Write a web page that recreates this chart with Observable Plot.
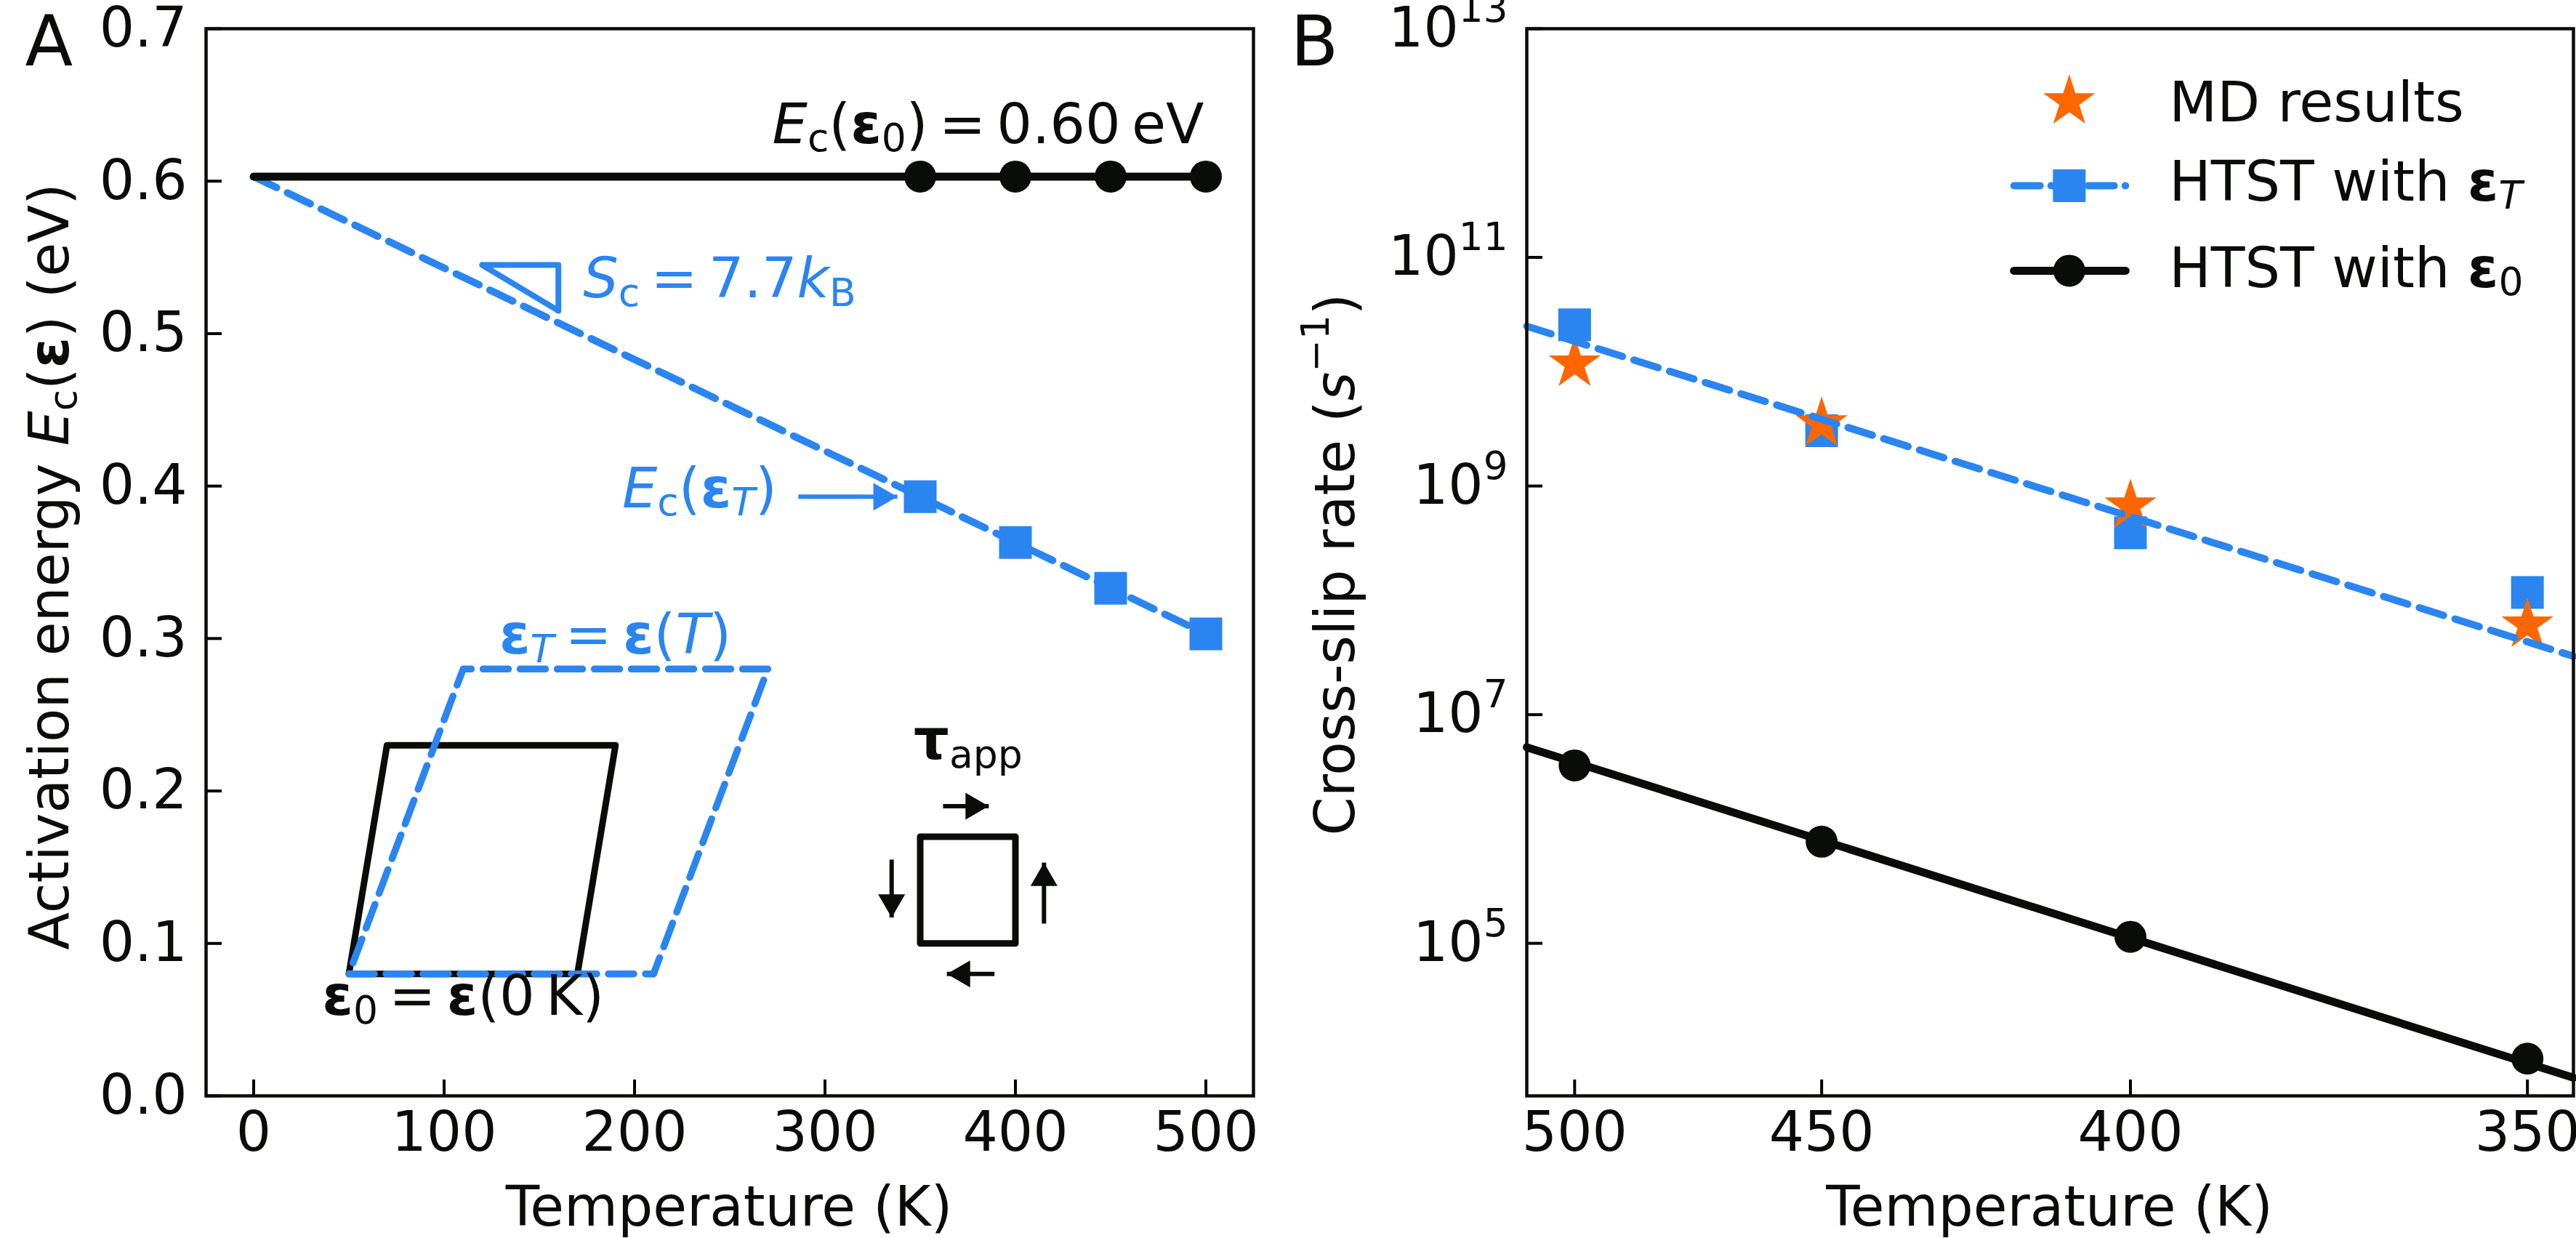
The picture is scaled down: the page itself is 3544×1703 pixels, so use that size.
<!DOCTYPE html>
<html><head><meta charset="utf-8">
<script src="https://cdn.jsdelivr.net/npm/d3@7"></script>
<script src="https://cdn.jsdelivr.net/npm/@observablehq/plot@0.6"></script>
<style>html,body{margin:0;background:#fff}#c{position:relative;width:3544px;height:1703px;overflow:hidden}#c svg{position:absolute;top:0;overflow:visible}</style>
</head><body><div id="c"></div>
<script>
const BLUE="#2B85F0", ORANGE="#FF6600", BLACK="#0A0C0A";
// Panel A
const tempA=[350,400,450,500];
const energyFlat=[0.603,0.603,0.603,0.603];
const energyT=[0.393,0.363,0.333,0.303];
const flatLine=[{T:0,E:0.603},{T:500,E:0.603}];
const slopeLine=[{T:0,E:0.603},{T:500,E:0.303}];
const slopeTriangle=[[120,0.545],[160,0.545],[160,0.515],[120,0.545]];
const cellBlack=[[50,0.08],[170,0.08],[190,0.23],[70,0.23],[50,0.08]];
const cellBlue=[[50,0.08],[210,0.08],[270,0.28],[110,0.28],[50,0.08]];
const cellSmall=[[350,0.1],[400,0.1],[400,0.17],[350,0.17],[350,0.1]];
const shearArrows=[
 {x1:362,y1:0.19,x2:386,y2:0.19,rotate:90},
 {x1:389,y1:0.08,x2:364,y2:0.08,rotate:-90},
 {x1:335,y1:0.155,x2:335,y2:0.117,rotate:180},
 {x1:415,y1:0.113,x2:415,y2:0.153,rotate:0}];
const pointerArrow=[{x1:286,y1:0.393,x2:338,y2:0.393,rotate:90}];
const labelsStart=[
 {x:173,y:0.5236,t:"<i>S</i><sub>c</sub>\u2009=\u20097.7<i>k</i><sub>B</sub>",c:BLUE},
 {x:193.5,y:0.386,t:"<i>E</i><sub>c</sub>(<b>ε</b><sub><i>T</i></sub>)",c:BLUE},
 {x:129,y:0.29,t:"<b>ε</b><sub><i>T</i></sub>\u2009=\u2009<b>ε</b>(<i>T</i>)",c:BLUE},
 {x:36,y:0.053,t:"<b>ε</b><sub>0</sub>\u2009=\u2009<b>ε</b>(0\u2009K)",c:BLACK},
 {x:346.6,y:0.221,t:"<b>τ</b><sub>app</sub>",c:BLACK}];
const labelsEnd=[
 {x:499,y:0.625,t:"<i>E</i><sub>c</sub>(<b>ε</b><sub>0</sub>)\u2009=\u20090.60\u2009eV",c:BLACK}];
// Panel B
const tempB=[500,450,400,350];
const rateSquares=[2.57e10,3.05e9,3.9e8,1.17e8];
const rateStars=[1.17e10,3.5e9,6.7e8,6.1e7];
const rateCircles=[3.6e6,7.74e5,1.14e5,9.8e3];
const blueFit=[{T:511,r:2.5e10},{T:345,r:3.24e7}];
const blackFit=[{T:511,r:5.19e6},{T:345,r:6680}];
const rateTicks=[1e5,1e7,1e9,1e11,1e13];
const legendRows=[
 {t:"MD results",y:2.3e12,ty:1.55e12},
 {t:"HTST with <b>ε</b><sub><i>T</i></sub>",y:4.23e11,ty:3.14e11},
 {t:"HTST with <b>ε</b><sub>0</sub>",y:7.64e10,ty:5.5e10}];
const legendT={marker:409,from:417.5,to:400.7,text:394.5};

const font={fontFamily:"'DejaVu Sans',sans-serif",fontSize:"76px",background:"transparent"};
const head={draw(c,s){const r=Math.sqrt(s/Math.PI);c.moveTo(0,0);c.lineTo(r*0.58,r);c.lineTo(-r*0.58,r);c.closePath();}};
const xy=()=>({x:d=>d[0],y:d=>d[1]});
function arrows(data,color,w,r){return [
 Plot.link(data,{x1:"x1",y1:"y1",x2:"x2",y2:"y2",stroke:color,strokeWidth:w}),
 Plot.dot(data,{x:"x2",y:"y2",r,symbol:head,rotate:"rotate",fill:color,stroke:"none"})];}
function panelLetter(s,dx){return Plot.text([s],{text:d=>d,frameAnchor:"top-left",lineAnchor:"bottom",textAnchor:"start",dx,dy:50,fontSize:96,fill:BLACK});}
function xLabel(s){return Plot.text([s],{text:d=>d,frameAnchor:"bottom",lineAnchor:"bottom",dx:-1,dy:178,fontSize:76,fill:BLACK});}
function yLabel(s,dx,dy){return Plot.text([s],{text:d=>d,frameAnchor:"left",textAnchor:"middle",lineAnchor:"bottom",rotate:-90,dx,dy,fontSize:76,fill:BLACK});}

const panelA=Plot.plot({width:1772,height:1703,marginLeft:283,marginRight:48,marginTop:39,marginBottom:196,style:font,
 x:{domain:[-25,525]},y:{domain:[0,0.7]},
 marks:[
  Plot.axisX({ticks:[0,100,200,300,400,500],tickSize:-22,tickPadding:44,strokeWidth:4,tickFormat:d=>String(d),label:null,fill:BLACK}),
  Plot.axisY({ticks:[0,.1,.2,.3,.4,.5,.6,.7],tickSize:-22,tickPadding:48,strokeWidth:4,tickFormat:d=>d.toFixed(1),label:null,fill:BLACK}),
  xLabel("Temperature (K)"),
  yLabel("Activation energy <i>E</i><sub>c</sub>(<b>ε</b>) (eV)",-190,6),
  Plot.line(cellBlack,{...xy(),stroke:BLACK,strokeWidth:9}),
  Plot.line(cellBlue,{...xy(),stroke:BLUE,strokeWidth:9.5,strokeDasharray:"35,16"}),
  Plot.line(cellSmall,{...xy(),stroke:BLACK,strokeWidth:9}),
  ...arrows(shearArrows,BLACK,6,32),
  Plot.line(slopeTriangle,{...xy(),stroke:BLUE,strokeWidth:8}),
  ...arrows(pointerArrow,BLUE,6,33),
  Plot.line(slopeLine,{x:"T",y:"E",stroke:BLUE,strokeWidth:10,strokeDasharray:"35,16.5"}),
  Plot.line(flatLine,{x:"T",y:"E",stroke:BLACK,strokeWidth:11}),
  Plot.dot(tempA,{x:d=>d,y:(d,i)=>energyFlat[i],r:22,fill:BLACK,stroke:"none"}),
  Plot.dot(tempA,{x:d=>d,y:(d,i)=>energyT[i],r:25.4,symbol:"square",fill:BLUE,stroke:"none"}),
  Plot.text(labelsStart,{x:"x",y:"y",text:"t",fill:"c",textAnchor:"start",lineAnchor:"bottom",fontSize:76.5}),
  Plot.text(labelsEnd,{x:"x",y:"y",text:"t",fill:"c",textAnchor:"end",lineAnchor:"bottom",fontSize:76.5}),
  Plot.frame({stroke:BLACK,strokeWidth:4.5}),
  panelLetter("A",-249)
 ]});

const lx=t=>1/t;
const legendLine=row=>[legendT.from,legendT.to].map(T=>({T,y:row.y}));
const panelB=Plot.plot({width:1772,height:1703,marginLeft:328,marginRight:4,marginTop:39,marginBottom:196,style:font,
 x:{domain:[1/511,1/345]},y:{type:"log",domain:[4.63e3,1e13]},
 marks:[
  Plot.axisX({ticks:tempB.map(lx),tickSize:-22,tickPadding:44,strokeWidth:4,tickFormat:d=>String(Math.round(1/d)),label:null,fill:BLACK}),
  Plot.axisY({ticks:rateTicks,tickSize:-22,tickPadding:48,strokeWidth:4,tickFormat:d=>`10<sup>${Math.round(Math.log10(d))}</sup>`,label:null,fill:BLACK}),
  xLabel("Temperature (K)"),
  yLabel("Cross-slip rate (<i>s</i><sup>−1</sup>)",-238,3),
  Plot.line(blackFit,{x:d=>lx(d.T),y:"r",stroke:BLACK,strokeWidth:11}),
  Plot.dot(tempB,{x:lx,y:(d,i)=>rateCircles[i],r:22,fill:BLACK,stroke:"none"}),
  Plot.dot(tempB,{x:lx,y:(d,i)=>rateSquares[i],r:25.4,symbol:"square",fill:BLUE,stroke:"none"}),
  Plot.dot(tempB,{x:lx,y:(d,i)=>rateStars[i],r:22.5,symbol:"star",fill:ORANGE,stroke:"none"}),
  Plot.line(blueFit,{x:d=>lx(d.T),y:"r",stroke:BLUE,strokeWidth:10,strokeDasharray:"35,16.5"}),
  Plot.dot([legendRows[0]],{x:()=>lx(legendT.marker),y:"y",r:22.5,symbol:"star",fill:ORANGE,stroke:"none"}),
  Plot.line(legendLine(legendRows[1]),{x:d=>lx(d.T),y:"y",stroke:BLUE,strokeWidth:10,strokeDasharray:"36,15"}),
  Plot.dot([legendRows[1]],{x:()=>lx(legendT.marker),y:"y",r:25.4,symbol:"square",fill:BLUE,stroke:"none"}),
  Plot.line(legendLine(legendRows[2]),{x:d=>lx(d.T),y:"y",stroke:BLACK,strokeWidth:11}),
  Plot.dot([legendRows[2]],{x:()=>lx(legendT.marker),y:"y",r:22,fill:BLACK,stroke:"none"}),
  Plot.text(legendRows,{x:()=>lx(legendT.text),y:"ty",text:"t",fill:BLACK,textAnchor:"start",lineAnchor:"bottom",fontSize:76.5}),
  Plot.frame({stroke:BLACK,strokeWidth:4.5}),
  panelLetter("B",-325)
 ]});

// Turns the small inline markup in label strings into real tspans.
function richText(svg){
 const NS="http://www.w3.org/2000/svg";
 const seen=[...svg.querySelectorAll("text, tspan")].filter(e=>e.children.length===0&&/<(i|b|sub|sup)>/.test(e.textContent));
 for(const el of seen){
  const src=el.textContent; el.textContent="";
  const base=parseFloat(getComputedStyle(el).fontSize)||76;
  const re=/<(\/?)(i|b|sub|sup)>|([^<]+)/g; let m;
  const st={i:0,b:0,sub:0,sup:0}; let shift=0;
  while((m=re.exec(src))){
   if(m[2]){st[m[2]]+=m[1]?-1:1;continue;}
   const ts=document.createElementNS(NS,"tspan");
   ts.textContent=m[3];
   ts.setAttribute("xml:space","preserve");
   if(st.i) ts.setAttribute("font-style","italic");
   if(st.b) ts.setAttribute("font-weight","bold");
   const target=st.sub?0.15*base:st.sup?-0.45*base:0;
   if(st.sub||st.sup) ts.setAttribute("font-size",0.7*base);
   if(target!==shift){ts.setAttribute("dy",target-shift);shift=target;}
   el.appendChild(ts);
  }
 }
}
const c=document.getElementById("c");
[panelA,panelB].forEach((p,i)=>{p.style.left=(i*1772)+"px";c.appendChild(p);richText(p);});
</script></body></html>
